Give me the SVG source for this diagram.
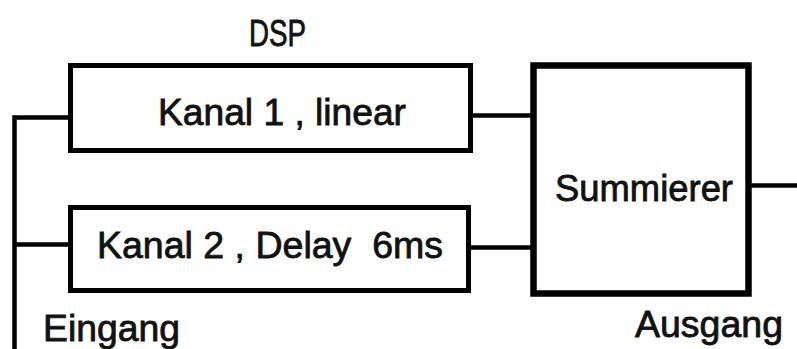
<svg xmlns="http://www.w3.org/2000/svg" width="797" height="349" viewBox="0 0 797 349">
  <style>
    .box { fill: #fff; stroke: #000; stroke-width: 5; }
    .sum { fill: #fff; stroke: #000; stroke-width: 6.5; }
    .wire { fill: none; stroke: #000; stroke-width: 4.5; }
    .lbl { font-family: "Liberation Sans", Arial, sans-serif; font-size: 37px; fill: #111; stroke: #111; stroke-width: 0.8px; white-space: pre; }
    .title { font-size: 36px; }
  </style>

  <!-- signal wiring -->
  <g id="connectors">
    <polyline class="wire" points="14.5,349 14.5,117.5 74,117.5"/>
    <line class="wire" x1="14.5" y1="244.5" x2="71" y2="244.5"/>
    <line class="wire" x1="470" y1="115.5" x2="533" y2="115.5"/>
    <line class="wire" x1="468" y1="247.5" x2="533" y2="247.5"/>
    <line class="wire" x1="748" y1="185.5" x2="797" y2="185.5"/>
  </g>

  <g id="dsp">
    <text class="lbl title" x="249" y="46" textLength="57" lengthAdjust="spacingAndGlyphs">DSP</text>
  </g>

  <g id="kanal1">
    <rect class="box" x="70.5" y="65.5" width="400" height="85"/>
    <text class="lbl" x="158" y="125" textLength="248" lengthAdjust="spacingAndGlyphs">Kanal 1 , linear</text>
  </g>

  <g id="kanal2">
    <rect class="box" x="70.5" y="207.5" width="398" height="83"/>
    <text class="lbl" x="97" y="258" textLength="346" lengthAdjust="spacingAndGlyphs">Kanal 2 , Delay  6ms</text>
  </g>

  <g id="summierer">
    <rect class="sum" x="533.5" y="65.5" width="215" height="228"/>
    <text class="lbl" x="555" y="201" textLength="178" lengthAdjust="spacingAndGlyphs">Summierer</text>
  </g>

  <g id="eingang">
    <text class="lbl" x="43" y="341" textLength="137" lengthAdjust="spacingAndGlyphs">Eingang</text>
  </g>

  <g id="ausgang">
    <text class="lbl" x="635" y="337" textLength="148" lengthAdjust="spacingAndGlyphs">Ausgang</text>
  </g>
</svg>
